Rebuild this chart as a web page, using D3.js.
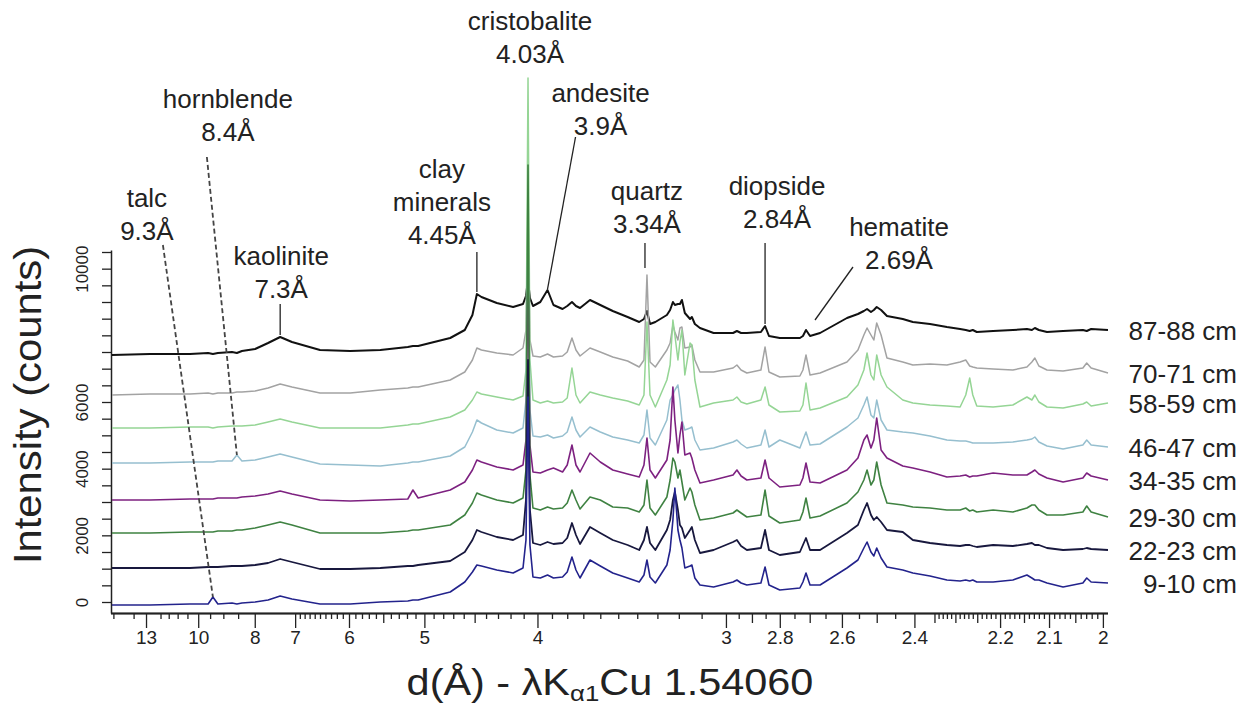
<!DOCTYPE html>
<html>
<head>
<meta charset="utf-8">
<script src="https://cdn.jsdelivr.net/npm/d3@7"></script>
<style>
  body { margin: 0; background: #fff; }
  text { font-family: "Liberation Sans", Arial, sans-serif; fill: #222; }
</style>
</head>
<body>
<div class="canvas"></div>
<script>
// d-spacing grid (Å) shared by all patterns
const dSpacing = [16.16, 12.71, 10.38, 9.58, 9.39, 9.20, 8.70, 8.54, 8.38, 7.99,
  7.64, 7.34, 7.07, 6.50, 5.98, 5.54, 5.19, 5.13, 5.07, 4.73,
  4.59, 4.52, 4.48, 4.44, 4.31, 4.18, 4.105, 4.083, 4.068, 4.054,
  4.032, 3.98, 3.93, 3.89, 3.83, 3.80, 3.77, 3.745, 3.72, 3.66,
  3.60, 3.53, 3.45, 3.39, 3.366, 3.351, 3.336, 3.31, 3.255, 3.24,
  3.227, 3.218, 3.204, 3.195, 3.186, 3.173, 3.15, 3.142, 3.129, 3.107,
  3.05, 2.972, 2.957, 2.941, 2.919, 2.867, 2.852, 2.838, 2.80, 2.732,
  2.722, 2.712, 2.699, 2.667, 2.585, 2.553, 2.536, 2.527, 2.516, 2.508,
  2.500, 2.488, 2.472, 2.43, 2.404, 2.361, 2.32, 2.289, 2.276, 2.267,
  2.26, 2.251, 2.215, 2.173, 2.144, 2.134, 2.128, 2.12, 2.104, 2.073,
  2.036, 2.029, 2.021, 1.991];

const samples = ['87-88 cm', '70-71 cm', '58-59 cm', '46-47 cm', '34-35 cm', '29-30 cm', '22-23 cm', '9-10 cm'];

// stacked intensities (counts, offset included)
const s87 = [7410, 7440, 7440, 7470, 7440, 7470, 7500, 7470, 7530, 7590,
  7770, 7950, 7800, 7560, 7530, 7560, 7650, 7680, 7680, 7920,
  8160, 8610, 9240, 9150, 8970, 8850, 8940, 9180, 9660, 9120,
  8880, 9000, 9360, 8910, 8790, 8880, 9000, 8880, 8820, 9060,
  8910, 8730, 8550, 8400, 8490, 8730, 8340, 8400, 8610, 8760,
  9000, 8910, 8940, 8940, 9060, 8670, 8490, 8550, 8340, 8220,
  8070, 8070, 8130, 8070, 8070, 8100, 8280, 7980, 7920, 7920,
  7980, 8160, 7980, 8070, 8520, 8640, 8730, 8790, 8700, 8760,
  8850, 8760, 8580, 8490, 8400, 8340, 8250, 8190, 8160, 8130,
  8160, 8100, 8130, 8160, 8190, 8160, 8220, 8160, 8100, 8130,
  8160, 8130, 8190, 8160];
const s70 = [6210, 6240, 6240, 6270, 6240, 6270, 6270, 6300, 6300, 6330,
  6420, 6540, 6450, 6270, 6270, 6360, 6420, 6450, 6450, 6660,
  6900, 7260, 7620, 7560, 7470, 7410, 7620, 8160, 11760, 7860,
  7380, 7350, 7440, 7350, 7380, 7500, 7920, 7560, 7380, 7620,
  7500, 7350, 7230, 7050, 7260, 9810, 7200, 7050, 7560, 7770,
  8310, 8100, 7860, 8220, 8250, 7620, 7650, 7710, 7260, 6900,
  6900, 7020, 7110, 6960, 6870, 6960, 7650, 6900, 6750, 6780,
  6960, 7410, 6810, 6870, 7200, 7560, 8010, 8220, 8010, 7860,
  8370, 8010, 7320, 7200, 7110, 7140, 7110, 7200, 7260, 7080,
  7050, 7020, 6990, 6960, 7050, 7200, 7320, 7080, 6960, 6930,
  7020, 7170, 7020, 6870];
const s58 = [5220, 5220, 5250, 5250, 5220, 5250, 5280, 5280, 5280, 5310,
  5400, 5490, 5400, 5220, 5220, 5220, 5310, 5340, 5340, 5550,
  5760, 6060, 6300, 6240, 6150, 6060, 6180, 6960, 15720, 7260,
  6060, 5970, 6030, 5970, 6000, 6120, 7020, 6210, 5970, 6300,
  6210, 6120, 6030, 5910, 6210, 8400, 6210, 5850, 6660, 7110,
  8460, 8010, 7260, 7800, 8160, 6810, 7770, 7710, 6660, 5850,
  5970, 6060, 6150, 6000, 5940, 6060, 6450, 5910, 5700, 5730,
  5910, 6570, 5760, 5820, 6150, 6510, 6960, 7470, 6810, 6660,
  7410, 6810, 6450, 6060, 5970, 5910, 5880, 5850, 6210, 6720,
  6210, 5880, 5850, 5910, 6150, 6060, 6210, 6000, 5850, 5820,
  5940, 6000, 5880, 5970];
const s46 = [4170, 4170, 4200, 4200, 4200, 4230, 4230, 4410, 4230, 4260,
  4350, 4440, 4350, 4140, 4110, 4080, 4170, 4200, 4200, 4380,
  4650, 5100, 5460, 5370, 5160, 5070, 5220, 6060, 11010, 5760,
  4980, 4950, 5010, 4920, 4980, 5100, 5550, 5160, 4950, 5250,
  5100, 4950, 4860, 4770, 5010, 5760, 4920, 4710, 5460, 6060,
  6210, 6360, 6510, 6060, 5460, 5160, 5220, 5250, 4860, 4560,
  4620, 4800, 4860, 4740, 4620, 4710, 5160, 4650, 4860, 4620,
  4860, 5100, 4710, 4740, 5250, 5520, 5910, 6150, 5610, 5520,
  6060, 5460, 5160, 5100, 5070, 4980, 4860, 4830, 4830, 4800,
  4770, 4770, 4770, 4800, 4860, 4890, 4950, 4800, 4680, 4590,
  4710, 4860, 4710, 4650];
const s34 = [3060, 3060, 3090, 3090, 3090, 3120, 3120, 3120, 3150, 3180,
  3240, 3330, 3240, 3060, 3030, 3060, 3090, 3360, 3120, 3360,
  3600, 3960, 4260, 4200, 4050, 3960, 4110, 4860, 9960, 4710,
  3900, 3870, 3960, 4020, 3900, 4110, 4710, 4110, 3900, 4470,
  4200, 3960, 3840, 3750, 4110, 4920, 3960, 3720, 4260, 4860,
  6450, 5460, 4470, 5010, 5400, 4410, 4470, 4320, 3960, 3570,
  3660, 3810, 3960, 3780, 3660, 3720, 4260, 3720, 3450, 3510,
  3720, 4170, 3600, 3570, 3960, 4320, 4860, 5010, 4620, 4860,
  5520, 4560, 4320, 4080, 4020, 3900, 3750, 3780, 3810, 3750,
  3780, 3780, 3870, 3810, 3810, 3900, 3960, 3840, 3720, 3600,
  3720, 3870, 3780, 3660];
const s29 = [2070, 2070, 2100, 2100, 2100, 2130, 2130, 2160, 2160, 2220,
  2310, 2400, 2310, 2070, 2070, 2070, 2130, 2160, 2160, 2310,
  2610, 2970, 3270, 3210, 3060, 2970, 3120, 3960, 13110, 3810,
  2820, 2760, 2850, 2790, 2820, 2970, 3360, 3060, 2790, 3150,
  3060, 2850, 2820, 2700, 2910, 3660, 2820, 2610, 3150, 3660,
  4320, 4200, 3720, 3960, 3600, 3060, 3420, 3300, 2910, 2460,
  2520, 2670, 2760, 2670, 2550, 2610, 3360, 2580, 2370, 2460,
  2700, 3120, 2520, 2580, 2970, 3300, 3660, 3960, 3510, 3660,
  4200, 3510, 2970, 2910, 2850, 2820, 2760, 2760, 2820, 2730,
  2760, 2700, 2760, 2700, 2820, 2910, 2910, 2760, 2610, 2610,
  2700, 2880, 2700, 2550];
const s22 = [1020, 1020, 1020, 1050, 1050, 1050, 1080, 1080, 1080, 1110,
  1170, 1290, 1200, 990, 990, 1020, 1080, 1080, 1110, 1230,
  1500, 1860, 2160, 2100, 1950, 1860, 2010, 3060, 7260, 2760,
  1770, 1710, 1800, 1740, 1770, 1920, 2370, 2010, 1740, 2250,
  2070, 1860, 1710, 1560, 1860, 2250, 1770, 1560, 2160, 2460,
  3060, 3300, 2760, 2310, 2220, 1920, 2160, 2250, 1860, 1470,
  1560, 1800, 1860, 1680, 1560, 1620, 2160, 1560, 1410, 1500,
  1710, 1920, 1560, 1560, 2070, 2310, 2760, 2970, 2610, 2460,
  2550, 2400, 2160, 2100, 1860, 1770, 1710, 1680, 1710, 1710,
  1680, 1650, 1710, 1680, 1740, 1770, 1710, 1710, 1620, 1560,
  1590, 1620, 1590, 1560];
const s9 = [-90, -90, -60, -60, 150, -60, -30, -60, -30, 0,
  60, 180, 90, -60, -60, 0, 30, 60, 60, 300,
  600, 900, 1110, 1080, 960, 870, 1020, 1860, 6150, 1710,
  750, 720, 810, 720, 750, 900, 1350, 960, 720, 1260,
  1080, 870, 720, 600, 810, 1260, 750, 570, 1110, 1560,
  2460, 3420, 2160, 1860, 1620, 1020, 1080, 1110, 720, 510,
  450, 600, 660, 570, 510, 570, 1050, 510, 360, 420,
  600, 870, 510, 510, 1020, 1260, 1620, 1800, 1500, 1380,
  1620, 1320, 1050, 960, 870, 780, 660, 630, 660, 630,
  660, 600, 600, 660, 810, 720, 660, 660, 570, 450,
  570, 720, 600, 570];

const series = [s87, s70, s58, s46, s34, s29, s22, s9];

// axis tick labels
const xTickLabels = [13, 10, 8, 7, 6, 5, 4, 3, 2.8, 2.6, 2.4, 2.2, 2.1, 2];
const yTickLabels = [0, 2000, 4000, 6000, 10000];

const colors = ['#111111', '#a3a3a3', '#95d595', '#96bfcf', '#7d2180', '#3f8242', '#18183e', '#23238c'];
const widths = [2, 1.5, 1.5, 1.5, 1.6, 1.6, 1.8, 1.6];

const svg = d3.select('.canvas')
    .append('svg')
        .attr('width', 1247)
        .attr('height', 706);

// x is linear in 1/d
const x = d3.scalePow().exponent(-1)
    .domain([16.16, 1.991])
    .range([112, 1108]);
const y = d3.scaleLinear()
    .domain([-330, 10560])
    .range([613, 250]);

// x axis: major, medium and minor ticks
const mediumTicks = [5.5, 4.5, 2.9, 2.7, 2.5, 2.35, 2.3, 2.25, 2.15, 2.05];
const minorTicks = [16, 14, 12, 11.5, 11, 10.5, 9.5, 9, 8.5]
    .concat(d3.range(61, 70).map(v => v / 10))
    .concat(d3.range(51, 60).map(v => v / 10).filter(v => v !== 5.5))
    .concat(d3.range(41, 50).map(v => v / 10).filter(v => v !== 4.5))
    .concat(d3.range(31, 40).map(v => v / 10))
    .concat([2.95, 2.85, 2.75, 2.65, 2.55, 2.45])
    .concat(d3.range(201, 235).filter(v => v % 5 !== 0).map(v => v / 100));

const xAxisGroup = svg.append('g').attr('transform', 'translate(0,613)');
xAxisGroup.append('g').call(d3.axisBottom(x).tickValues(minorTicks).tickSize(6).tickSizeOuter(0).tickFormat(''));
xAxisGroup.append('g').call(d3.axisBottom(x).tickValues(mediumTicks).tickSize(10).tickSizeOuter(0).tickFormat(''));
xAxisGroup.append('g').call(d3.axisBottom(x).tickValues(xTickLabels).tickSize(15).tickSizeOuter(0).tickFormat(d3.format('')));
xAxisGroup.selectAll('path').attr('d', 'M111,0.5H1108').attr('stroke', '#222').attr('stroke-width', 1.3);
xAxisGroup.selectAll('line').attr('stroke', '#222').attr('stroke-width', 1.3);
xAxisGroup.selectAll('text')
    .attr('font-family', '"Liberation Sans", Arial, sans-serif')
    .attr('font-size', 19)
    .attr('fill', '#333');

// y axis
const yAxisGroup = svg.append('g').attr('transform', 'translate(111,0)');
yAxisGroup.call(d3.axisLeft(y)
    .tickValues(d3.range(0, 10501, 500))
    .tickSize(9)
    .tickSizeOuter(0)
    .tickFormat(d => yTickLabels.includes(d) ? d : ''));
yAxisGroup.select('path').attr('stroke', '#222').attr('stroke-width', 1.5);
yAxisGroup.selectAll('line').attr('stroke', '#222').attr('stroke-width', 1.3);
yAxisGroup.selectAll('text')
    .attr('font-family', '"Liberation Sans", Arial, sans-serif')
    .attr('font-size', 17)
    .attr('fill', '#333')
    .attr('x', 0)
    .attr('y', -23)
    .attr('dy', null)
    .attr('text-anchor', 'middle')
    .attr('transform', 'rotate(-90)');

// patterns
const line = d3.line()
    .x((v, i) => x(dSpacing[i]))
    .y(v => y(v));

svg.append('g').selectAll('path')
    .data(series)
    .enter()
    .append('path')
        .attr('d', line)
        .attr('fill', 'none')
        .attr('stroke', (d, i) => colors[i])
        .attr('stroke-width', (d, i) => widths[i])
        .attr('stroke-linejoin', 'round');

// sample labels at the end of each pattern
svg.append('g').selectAll('text')
    .data(series)
    .enter()
    .append('text')
        .attr('x', 1237)
        .attr('y', d => y(d[d.length - 1]) + 10)
        .attr('text-anchor', 'end')
        .attr('font-size', 26)
        .text((d, i) => samples[i]);

// mineral annotations
const notes = [
    {label: ['talc', '9.3Å'], d: 9.39, on: s9, dx: -66, y0: 207, from: [-50, 245], dash: true},
    {label: ['hornblende', '8.4Å'], d: 8.54, on: s46, dx: -9, y0: 108, from: [-30, 157], dash: true},
    {label: ['kaolinite', '7.3Å'], d: 7.34, on: s87, dx: 1, y0: 265, from: [0, 304], gap: 2},
    {label: ['clay', 'minerals', '4.45Å'], d: 4.48, on: s87, dx: -35, y0: 178, from: [0, 252], gap: 2},
    {label: ['cristobalite', '4.03Å'], d: 4.068, dx: 2, y0: 30},
    {label: ['andesite', '3.9Å'], d: 3.93, on: s87, dx: 53, y0: 102, from: [28, 137], gap: 1},
    {label: ['quartz', '3.34Å'], d: 3.351, dx: 0, y0: 200, from: [-2, 243], to: [-2, 268]},
    {label: ['diopside', '2.84Å'], d: 2.852, on: s87, dx: 12, y0: 195, from: [0, 243], gap: 2},
    {label: ['hematite', '2.69Å'], d: 2.712, on: s87, dx: 93, y0: 236, from: [47, 267], endDx: 9, gap: 10}
];

const noteGroup = svg.append('g');
notes.forEach(n => {
    const px = x(n.d);
    const t = noteGroup.append('text')
        .attr('text-anchor', 'middle')
        .attr('font-size', 26);
    n.label.forEach((s, i) => {
        t.append('tspan')
            .attr('x', px + n.dx)
            .attr('y', n.y0 + i * 33)
            .text(s);
    });
    if (!n.from) return;
    let x2, y2;
    if (n.to) {
        x2 = px + n.to[0];
        y2 = n.to[1];
    } else {
        x2 = px + (n.endDx || 0);
        y2 = y(n.on[dSpacing.indexOf(n.d)]) - (n.gap || 0);
    }
    noteGroup.append('line')
        .attr('x1', px + n.from[0])
        .attr('y1', n.from[1])
        .attr('x2', x2)
        .attr('y2', y2)
        .attr('stroke', n.dash ? '#444' : '#222')
        .attr('stroke-width', n.dash ? 1.8 : 1.3)
        .attr('stroke-dasharray', n.dash ? '5,3' : null);
});

// axis titles (slightly widened, like the original's lettering)
const xTitle = svg.append('text')
    .attr('transform', 'translate(610,695) scale(1.12,1)')
    .attr('text-anchor', 'middle')
    .attr('font-family', '"Open Sans", sans-serif')
    .attr('font-size', 37)
    .attr('fill', '#333');
xTitle.append('tspan').text('d(Å) - λK');
xTitle.append('tspan').attr('font-size', 23).attr('dy', 6).text('α1');
xTitle.append('tspan').attr('dy', -6).text('Cu 1.54060');

svg.append('text')
    .attr('transform', 'translate(41,405) rotate(-90) scale(1.1,1)')
    .attr('text-anchor', 'middle')
    .attr('font-family', '"Open Sans", sans-serif')
    .attr('font-size', 38)
    .attr('fill', '#333')
    .text('Intensity (counts)');
</script>
</body>
</html>
